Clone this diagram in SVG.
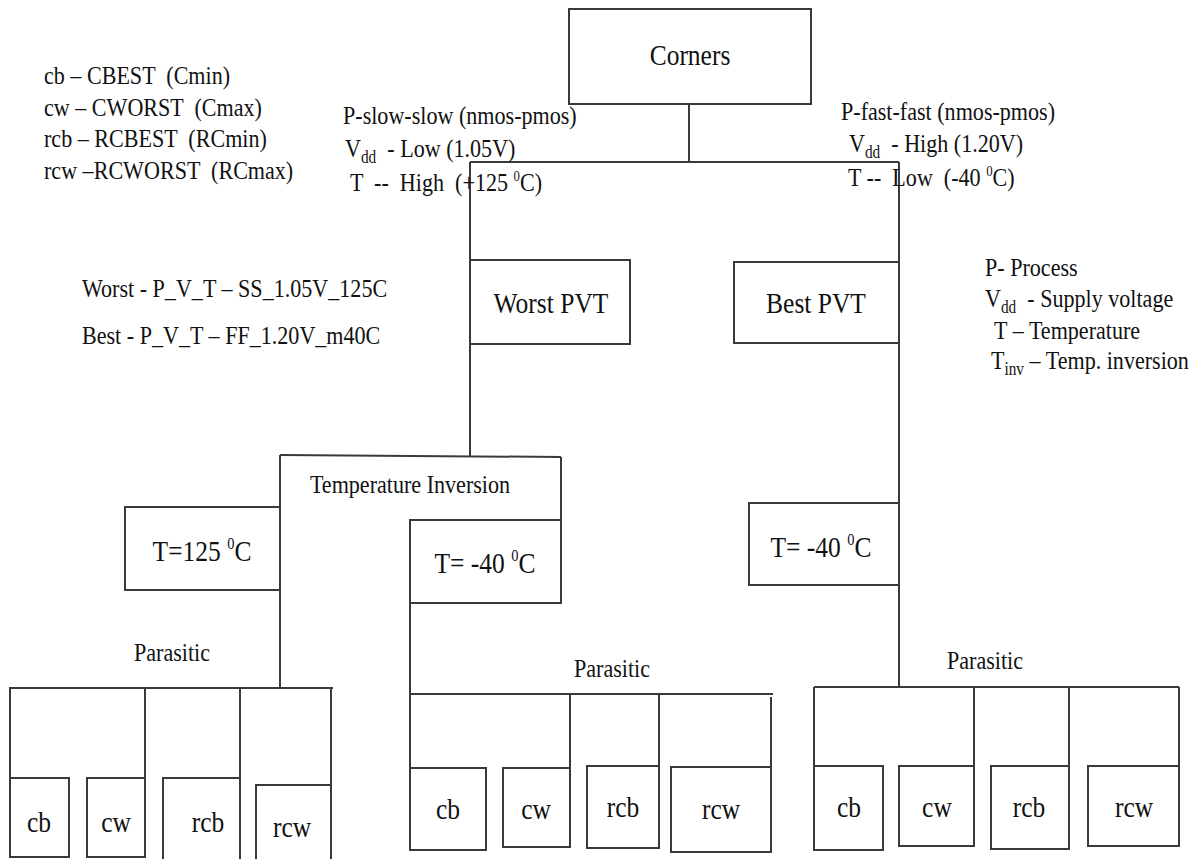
<svg xmlns="http://www.w3.org/2000/svg" width="1204" height="859" viewBox="0 0 1204 859">
  <style>
    .ln { stroke: #3a3a3a; stroke-width: 2; fill: none; }
    .bx { fill: #ffffff; stroke: #3a3a3a; stroke-width: 2; }
    text { font-family: "Liberation Serif", "Times New Roman", serif; fill: #111111; white-space: pre; }
    /* narrow serif lettering: squeeze each text along x around its own box */
    .s { font-size: 26px; transform: scaleX(0.85); transform-box: fill-box; transform-origin: left center; }
    .c { font-size: 26px; text-anchor: middle; transform: scaleX(0.85); transform-box: fill-box; transform-origin: center; }
    .b { font-size: 30px; text-anchor: middle; transform: scaleX(0.85); transform-box: fill-box; transform-origin: center; }
  </style>

  <!-- connectors -->
  <g id="connectors" class="ln">
    <line x1="689" y1="104" x2="689" y2="162"/>
    <line x1="470" y1="162" x2="899" y2="162"/>
    <line x1="470" y1="162" x2="470" y2="456"/>
    <line x1="899" y1="162" x2="899" y2="687"/>
    <line x1="280" y1="455" x2="561" y2="457"/>
    <line x1="280" y1="455" x2="280" y2="688"/>
    <line x1="561" y1="457" x2="561" y2="520"/>
    <line x1="410" y1="603" x2="410" y2="768"/>
    <!-- left parasitic bus -->
    <line x1="9" y1="688" x2="333" y2="688"/>
    <line x1="10" y1="688" x2="10" y2="778"/>
    <line x1="145" y1="688" x2="145" y2="778"/>
    <line x1="240" y1="688" x2="240" y2="778"/>
    <line x1="331" y1="688" x2="331" y2="785"/>
    <!-- middle parasitic bus -->
    <line x1="410" y1="694" x2="773" y2="694"/>
    <line x1="570" y1="694" x2="570" y2="768"/>
    <line x1="659" y1="694" x2="659" y2="766"/>
    <line x1="771" y1="697" x2="771" y2="767"/>
    <!-- right parasitic bus -->
    <line x1="814" y1="687" x2="1179" y2="687"/>
    <line x1="814" y1="687" x2="814" y2="766"/>
    <line x1="974" y1="687" x2="974" y2="766"/>
    <line x1="1069" y1="687" x2="1069" y2="766"/>
    <line x1="1179" y1="687" x2="1179" y2="766"/>
  </g>

  <!-- root -->
  <g id="corners">
    <rect class="bx" x="569" y="9" width="242" height="95"/>
    <text class="b" x="690" y="65">Corners</text>
  </g>

  <!-- abbreviations -->
  <g id="parasitic-key">
    <text class="s" x="44" y="84">cb – CBEST  (Cmin)</text>
    <text class="s" x="44" y="116">cw – CWORST  (Cmax)</text>
    <text class="s" x="44" y="147">rcb – RCBEST  (RCmin)</text>
    <text class="s" x="44" y="179">rcw –RCWORST  (RCmax)</text>
  </g>

  <g id="slow-corner-notes">
    <text class="s" x="343" y="124">P-slow-slow (nmos-pmos)</text>
    <text class="s" x="345" y="157">V<tspan dy="6" font-size="18">dd</tspan><tspan dy="-6">  - Low (1.05V)</tspan></text>
    <text class="s" x="350" y="191">T  --  High  (+125 <tspan dy="-10" font-size="15">0</tspan><tspan dy="10">C)</tspan></text>
  </g>

  <g id="fast-corner-notes">
    <text class="s" x="841" y="120">P-fast-fast (nmos-pmos)</text>
    <text class="s" x="849" y="152">V<tspan dy="6" font-size="18">dd</tspan><tspan dy="-6">  - High (1.20V)</tspan></text>
    <text class="s" x="848" y="186">T --  Low  (-40 <tspan dy="-10" font-size="15">0</tspan><tspan dy="10">C)</tspan></text>
  </g>

  <g id="pvt-names">
    <text class="s" x="82" y="297">Worst - P_V_T – SS_1.05V_125C</text>
    <text class="s" x="82" y="344">Best - P_V_T – FF_1.20V_m40C</text>
  </g>

  <g id="pvt-key">
    <text class="s" x="985" y="276">P- Process</text>
    <text class="s" x="985" y="307">V<tspan dy="6" font-size="18">dd</tspan><tspan dy="-6">  - Supply voltage</tspan></text>
    <text class="s" x="989" y="339"> T – Temperature</text>
    <text class="s" x="991" y="369">T<tspan dy="6" font-size="18">inv</tspan><tspan dy="-6"> – Temp. inversion</tspan></text>
  </g>

  <g id="worst-pvt">
    <rect class="bx" x="470" y="260" width="160" height="84"/>
    <text class="b" x="551" y="313">Worst PVT</text>
  </g>

  <g id="best-pvt">
    <rect class="bx" x="734" y="262" width="165" height="81"/>
    <text class="b" x="816" y="313">Best PVT</text>
  </g>

  <g id="temp-inversion-label">
    <text class="c" x="410" y="493">Temperature Inversion</text>
  </g>

  <g id="t125">
    <rect class="bx" x="125" y="507" width="155" height="83"/>
    <text class="b" x="202" y="561">T=125 <tspan dy="-12" font-size="17">0</tspan><tspan dy="12">C</tspan></text>
  </g>

  <g id="tm40-inv">
    <rect class="bx" x="410" y="520" width="151" height="83"/>
    <text class="b" x="485" y="573">T= -40 <tspan dy="-12" font-size="17">0</tspan><tspan dy="12">C</tspan></text>
  </g>

  <g id="tm40-best">
    <rect class="bx" x="749" y="503" width="150" height="82"/>
    <text class="b" x="821" y="557">T= -40 <tspan dy="-12" font-size="17">0</tspan><tspan dy="12">C</tspan></text>
  </g>

  <!-- parasitic labels -->
  <g id="parasitic-labels">
    <text class="c" x="172" y="661">Parasitic</text>
    <text class="c" x="612" y="677">Parasitic</text>
    <text class="c" x="985" y="669">Parasitic</text>
  </g>

  <!-- leaf corners under T=125 -->
  <g id="leaf-125-cb"><rect class="bx" x="10" y="778" width="59" height="79"/><text class="b" x="39" y="832">cb</text></g>
  <g id="leaf-125-cw"><rect class="bx" x="87" y="778" width="58" height="79"/><text class="b" x="116" y="832">cw</text></g>
  <g id="leaf-125-rcb"><rect class="bx" x="163" y="778" width="77" height="90"/><text class="b" x="208" y="832">rcb</text></g>
  <g id="leaf-125-rcw"><rect class="bx" x="256" y="785" width="75" height="90"/><text class="b" x="292" y="837">rcw</text></g>

  <!-- leaf corners under inverted T=-40 -->
  <g id="leaf-inv-cb"><rect class="bx" x="410" y="768" width="76" height="82"/><text class="b" x="448" y="819">cb</text></g>
  <g id="leaf-inv-cw"><rect class="bx" x="503" y="768" width="67" height="79"/><text class="b" x="536" y="819">cw</text></g>
  <g id="leaf-inv-rcb"><rect class="bx" x="587" y="766" width="72" height="82"/><text class="b" x="623" y="817">rcb</text></g>
  <g id="leaf-inv-rcw"><rect class="bx" x="671" y="767" width="100" height="85"/><text class="b" x="721" y="819">rcw</text></g>

  <!-- leaf corners under best T=-40 -->
  <g id="leaf-best-cb"><rect class="bx" x="814" y="766" width="69" height="84"/><text class="b" x="849" y="817">cb</text></g>
  <g id="leaf-best-cw"><rect class="bx" x="899" y="766" width="75" height="80"/><text class="b" x="937" y="817">cw</text></g>
  <g id="leaf-best-rcb"><rect class="bx" x="991" y="766" width="78" height="83"/><text class="b" x="1029" y="817">rcb</text></g>
  <g id="leaf-best-rcw"><rect class="bx" x="1088" y="766" width="91" height="80"/><text class="b" x="1134" y="817">rcw</text></g>
</svg>
